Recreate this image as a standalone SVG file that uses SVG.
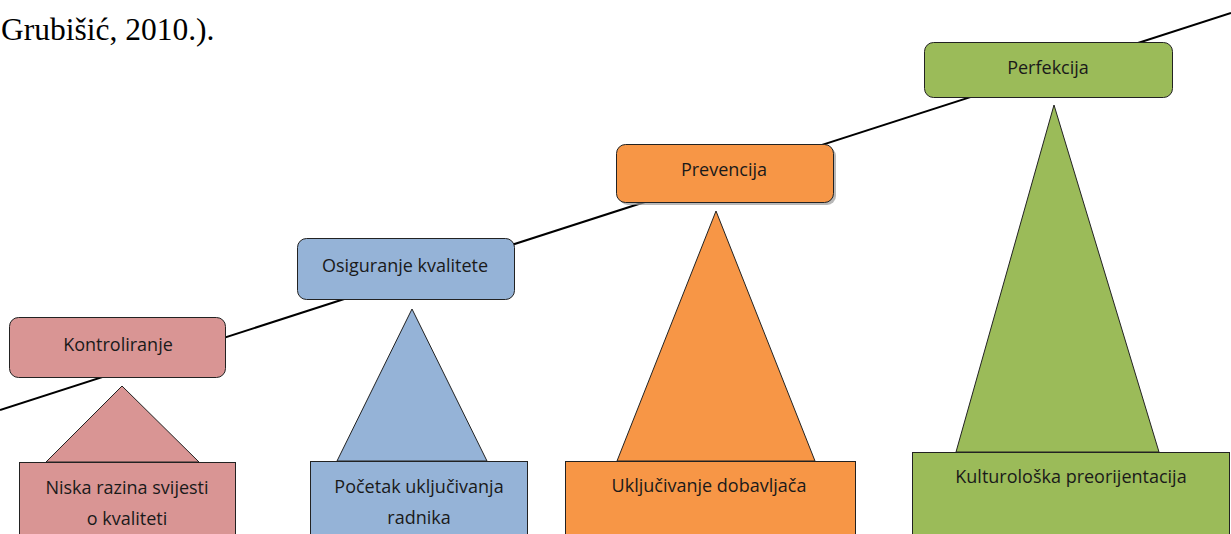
<svg xmlns="http://www.w3.org/2000/svg" width="1231" height="534" viewBox="0 0 1231 534">
<style>
.lbl{font-family:"Open Sans","Noto Sans",sans-serif;font-size:18px;fill:#1a1a1a;text-anchor:middle}
.box{stroke:#222;stroke-width:1}
.shape{stroke:#222;stroke-width:1}
.red{fill:#D99594}.blue{fill:#95B3D7}.orange{fill:#F79646}.green{fill:#9BBB59}
</style>
<rect width="1231" height="534" fill="#fff"/>
<text x="1" y="40" font-family="Liberation Serif,serif" font-size="31.5" fill="#000">Grubišić, 2010.).</text>
<g id="connectors">
<line x1="0" y1="410" x2="1231" y2="13" stroke="#000" stroke-width="2"/>
</g>
<g id="kontroliranje">
<rect class="box red" x="9.5" y="317.5" width="216" height="60" rx="9"/>
<text class="lbl" x="118" y="351">Kontroliranje</text>
</g>
<g id="niska">
<polygon class="shape red" points="122,386 199,462 46,462"/>
<rect class="shape red" x="19.5" y="462.5" width="216" height="80"/>
<text class="lbl" x="127" y="494">Niska razina svijesti</text>
<text class="lbl" x="127" y="525">o kvaliteti</text>
</g>
<g id="osiguranje">
<rect class="box blue" x="297.5" y="238.5" width="217" height="61" rx="9"/>
<text class="lbl" x="405" y="272">Osiguranje kvalitete</text>
</g>
<g id="pocetak">
<polygon class="shape blue" points="412,309 487,461 337,461"/>
<rect class="shape blue" x="310.5" y="461.5" width="217" height="80"/>
<text class="lbl" x="419" y="493">Početak uključivanja</text>
<text class="lbl" x="419" y="524">radnika</text>
</g>
<g id="prevencija">
<rect x="619" y="147" width="217" height="58" rx="9" fill="#9a9a9a" opacity="0.7"/>
<rect class="box orange" x="616.5" y="144.5" width="217" height="58" rx="9"/>
<text class="lbl" x="724" y="176">Prevencija</text>
</g>
<g id="ukljucivanje">
<polygon class="shape orange" points="716,211 815,461 617,461"/>
<rect class="shape orange" x="565.5" y="461.5" width="290" height="80"/>
<text class="lbl" x="709" y="492">Uključivanje dobavljača</text>
</g>
<g id="perfekcija">
<rect class="box green" x="924.5" y="42.5" width="248" height="55" rx="9"/>
<text class="lbl" x="1048" y="74">Perfekcija</text>
</g>
<g id="kulturoloska">
<polygon class="shape green" points="1054,105 1159,452 956,452"/>
<rect class="shape green" x="912.5" y="452.5" width="317" height="90"/>
<text class="lbl" x="1071" y="483">Kulturološka preorijentacija</text>
</g>
</svg>
